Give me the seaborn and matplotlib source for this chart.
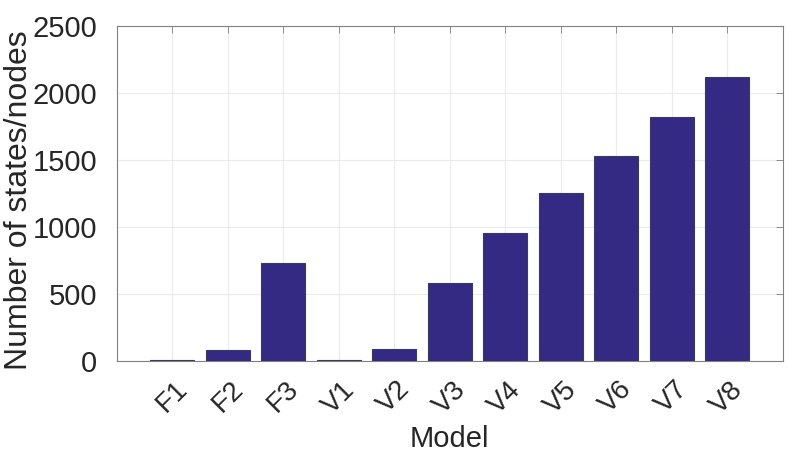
import matplotlib
matplotlib.use('Agg')
import matplotlib.pyplot as plt
import seaborn as sns
import pandas as pd

# Daten
models = ['F1', 'F2', 'F3', 'V1', 'V2', 'V3', 'V4', 'V5', 'V6', 'V7', 'V8']
states = [10, 80, 729, 10, 88, 580, 953, 1254, 1530, 1819, 2122]

df = pd.DataFrame({'Model': models, 'States': states})

sns.set_style('white')
plt.rcParams['font.family'] = ['Liberation Sans', 'DejaVu Sans']

fig = plt.figure(figsize=(7.89, 4.53), dpi=100)
ax = fig.add_axes([0.148, 0.203, 0.844, 0.740])

sns.barplot(data=df, x='Model', y='States', color='#342a84', saturation=1,
            width=0.8, edgecolor='#3a3a5a', linewidth=0.8, ax=ax, zorder=3)

ax.set_xlim(-1, len(models))
ax.set_ylim(0, 2500)
ax.set_yticks(range(0, 2501, 500))

# Gitter im MATLAB-Stil
ax.grid(True, color='#ebebeb', linewidth=0.8, zorder=0)
ax.set_axisbelow(True)

for spine in ax.spines.values():
    spine.set_visible(True)
    spine.set_color('#808080')
    spine.set_linewidth(0.8)

ax.tick_params(direction='in', length=5, width=0.6, color='#808080',
               top=True, right=True, labelsize=21, labelcolor='#262626')
ax.tick_params(axis='y', pad=14)
ax.tick_params(axis='x', pad=11, labelsize=20)
plt.setp(ax.get_xticklabels(), rotation=45, ha='center', va='top',
         rotation_mode='default')

ax.set_xlabel('Model', fontsize=21, color='#262626')
ax.set_ylabel('Number of states/nodes', fontsize=23, color='#262626')
ax.xaxis.set_label_coords(0.5, -0.19)
ax.yaxis.set_label_coords(-0.125, 0.48)

fig.savefig('out.png', dpi=100)
plt.close()
